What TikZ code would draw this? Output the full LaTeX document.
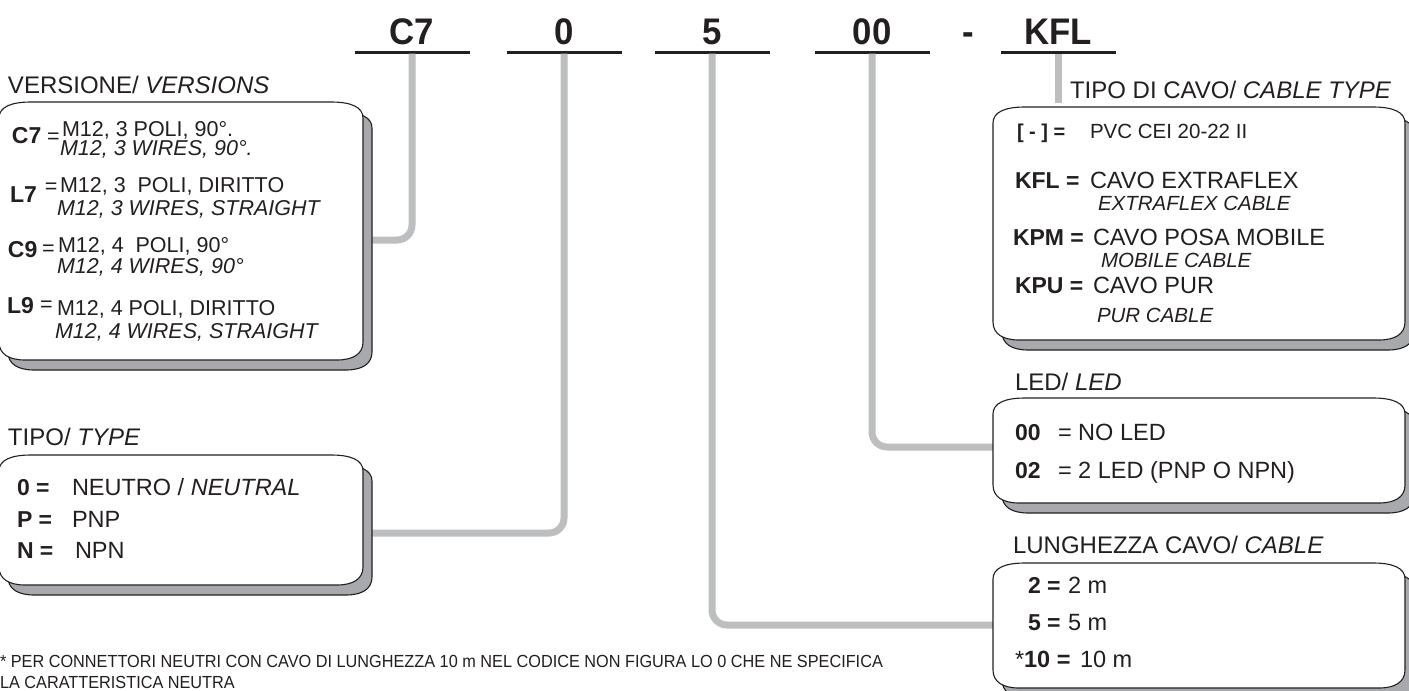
\documentclass[tikz,border=0pt]{standalone}
\usepackage{fontspec}
\setmainfont{Liberation Sans}
\newfontfamily\narrowfont[FakeStretch=0.93]{Liberation Sans}
\newfontfamily\codefont[FakeStretch=0.94]{Liberation Sans}
\definecolor{ink}{HTML}{231F20}
\definecolor{conncol}{HTML}{BCBEC0}
\definecolor{shadcol}{HTML}{A7A9AC}
\tikzset{
 txt/.style={anchor=base west, inner sep=0pt, outer sep=0pt, text=ink, font=\fontsize{21.5}{25}\selectfont},
 txtb/.style={anchor=base west, inner sep=0pt, outer sep=0pt, text=ink, font=\fontsize{23.5}{27}\selectfont},
 txts/.style={anchor=base west, inner sep=0pt, outer sep=0pt, text=ink, font=\fontsize{20.5}{24}\selectfont\itshape},
 key/.style={anchor=base west, inner sep=0pt, outer sep=0pt, text=ink, font=\fontsize{23}{26}\selectfont\bfseries},
 lbl/.style={anchor=base west, inner sep=0pt, outer sep=0pt, text=ink, font=\fontsize{24}{28}\selectfont},
 foot/.style={anchor=base west, inner sep=0pt, outer sep=0pt, text=ink, font=\narrowfont\fontsize{17.5}{20}\selectfont},
 code/.style={anchor=base, inner sep=0pt, outer sep=0pt, text=ink, font=\codefont\fontsize{37}{42}\selectfont\bfseries},
 uline/.style={fill=ink, minimum width=115pt, minimum height=3pt, inner sep=0pt, outer sep=0pt},
 conn/.style={draw=conncol, line width=7pt, rounded corners=15pt},
 boxmain/.style={fill=white, draw=ink, line width=1.1pt},
 boxshadow/.style={fill=shadcol, draw=ink, line width=1.1pt},
}
% #1 name, #2 x1, #3 y1, #4 x2, #5 y2 (pixels, y downwards)
\newcommand\optbox[5]{%
 \filldraw[boxshadow, shift={(9,10)}]
  ({#2},{#3+16}) .. controls ({#2},{#3+5}) and ({#2+12},{#3}) .. ({#2+32},{#3})
  -- ({#4-32},{#3}) .. controls ({#4-12},{#3}) and ({#4},{#3+5}) .. ({#4},{#3+16})
  -- ({#4},{#5-18}) .. controls ({#4},{#5-6}) and ({#4-10},{#5}) .. ({#4-26},{#5})
  -- ({#2+26},{#5}) .. controls ({#2+10},{#5}) and ({#2},{#5-6}) .. ({#2},{#5-18}) -- cycle;
 \filldraw[boxmain]
  ({#2},{#3+16}) .. controls ({#2},{#3+5}) and ({#2+12},{#3}) .. ({#2+32},{#3})
  -- ({#4-32},{#3}) .. controls ({#4-12},{#3}) and ({#4},{#3+5}) .. ({#4},{#3+16})
  -- ({#4},{#5-18}) .. controls ({#4},{#5-6}) and ({#4-10},{#5}) .. ({#4-26},{#5})
  -- ({#2+26},{#5}) .. controls ({#2+10},{#5}) and ({#2},{#5-6}) .. ({#2},{#5-18}) -- cycle;
 \coordinate (#1) at ({(#2+#4)/2},{(#3+#5)/2});
}
\begin{document}
\begin{tikzpicture}[x=1pt,y=-1pt]
\useasboundingbox[fill=white] (0,0) rectangle (1409,691);

% code letters
\node[code] (cC7) at (412,44) {C7};
\node[code] (c0) at (564,44) {0};
\node[code] (c5) at (712,44) {5};
\node[code] (c00) at (872,44) {00};
\node[code] (cdash) at (968,44) {-};
\node[code] (cKFL) at (1058,44) {KFL};
\node[uline] (u1) at (412,52) {};
\node[uline] (u2) at (564,52) {};
\node[uline] (u3) at (712,52) {};
\node[uline] (u4) at (872,52) {};
\node[uline] (u5) at (1058,52) {};

% connector end points
\coordinate (verE) at (368,240);
\coordinate (tipoE) at (368,533);
\coordinate (ledW) at (998,447);
\coordinate (lungW) at (998,625);
\coordinate (cavoT) at (1058,103);

\draw[conn] (u1.south) |- (verE);
\draw[conn] (u2.south) |- (tipoE);
\draw[conn] (u3.south) |- (lungW);
\draw[conn] (u4.south) |- (ledW);
\draw[conn] (u5.south) -- (cavoT);

% boxes
\optbox{ver}{-1}{102}{363}{360}
\optbox{tipo}{-1}{455}{363}{585}
\optbox{cavo}{993}{107}{1405}{340}
\optbox{led}{993}{398}{1405}{503}
\optbox{lung}{993}{563}{1405}{688}

% VERSIONE
\node[lbl] (lver) at (8,93) {VERSIONE/ \textit{VERSIONS}};
\node[key] (k1) at (12,143) {C7};
\node[txt] (e1) at (47,143) {=};
\node[txt] (a1) at (62,136) {M12, 3 POLI, 90°.};
\node[txt] (b1) at (60,155) {\itshape M12, 3 WIRES, 90°.};
\node[key] (k2) at (10,202) {L7};
\node[txt] (e2) at (45,193) {=};
\node[txt] (a2) at (60,192) {M12, 3\ \ POLI, DIRITTO};
\node[txt] (b2) at (57,215) {\itshape M12, 3 WIRES, STRAIGHT};
\node[key] (k3) at (8,257) {C9};
\node[txt] (e3) at (42,255) {=};
\node[txt] (a3) at (58,252) {M12, 4\ \ POLI, 90°};
\node[txt] (b3) at (57,273) {\itshape M12, 4 WIRES, 90°};
\node[key] (k4) at (7,313) {L9};
\node[txt] (e4) at (40,311) {=};
\node[txt] (a4) at (57,315) {M12, 4 POLI, DIRITTO};
\node[txt] (b4) at (55,338) {\itshape M12, 4 WIRES, STRAIGHT};

% TIPO
\node[lbl] (ltipo) at (8,445) {TIPO/ \textit{TYPE}};
\node[key] (k5) at (17,495) {0 =};
\node[txtb] (a5) at (72,495) {NEUTRO / \textit{NEUTRAL}};
\node[key] (k6) at (17,527) {P =};
\node[txtb] (a6) at (72,527) {PNP};
\node[key] (k7) at (17,558) {N =};
\node[txtb] (a7) at (75,558) {NPN};

% TIPO DI CAVO
\node[lbl] (lcavo) at (1070,98) {TIPO DI CAVO/ \textit{CABLE TYPE}};
\node[key, font=\fontsize{20}{22}\selectfont\bfseries] (k8) at (1017,138) {[ - ] =};
\node[txtb, font=\fontsize{20.5}{23}\selectfont] (a8) at (1090,138) {PVC CEI 20-22 II};
\node[key] (k9) at (1015,188) {KFL =};
\node[txtb] (a9) at (1090,188) {CAVO EXTRAFLEX};
\node[txts] (b9) at (1098,210) {EXTRAFLEX CABLE};
\node[key] (k10) at (1013,245) {KPM =};
\node[txtb] (a10) at (1093,245) {CAVO POSA MOBILE};
\node[txts] (b10) at (1101,267) {MOBILE CABLE};
\node[key] (k11) at (1015,293) {KPU =};
\node[txtb] (a11) at (1093,293) {CAVO PUR};
\node[txts] (b11) at (1097,322) {PUR CABLE};

% LED
\node[lbl] (lled) at (1015,390) {LED/ \textit{LED}};
\node[key] (k12) at (1015,440) {00};
\node[txtb] (a12) at (1058,440) {= NO LED};
\node[key] (k13) at (1015,478) {02};
\node[txtb] (a13) at (1058,478) {= 2 LED (PNP O NPN)};

% LUNGHEZZA
\node[lbl] (llung) at (1013,553) {LUNGHEZZA CAVO/ \textit{CABLE}};
\node[key] (k14) at (1028,593) {2 =};
\node[txtb] (a14) at (1068,593) {2 m};
\node[key] (k15) at (1028,630) {5 =};
\node[txtb] (a15) at (1068,630) {5 m};
\node[txtb] (k16) at (1015,667) {*\textbf{10 =}};
\node[txtb] (a16) at (1080,667) {10 m};

% footnote
\node[foot] (fn1) at (0,667) {* PER CONNETTORI NEUTRI CON CAVO DI LUNGHEZZA 10 m NEL CODICE NON FIGURA LO 0 CHE NE SPECIFICA};
\node[foot] (fn2) at (0,688) {LA CARATTERISTICA NEUTRA};
\end{tikzpicture}
\end{document}
